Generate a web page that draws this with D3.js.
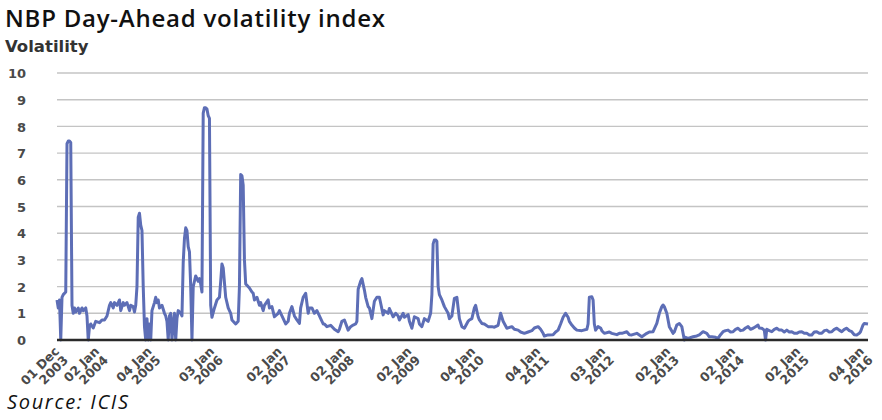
<!DOCTYPE html>
<html>
<head>
<meta charset="utf-8">
<script src="https://cdn.jsdelivr.net/npm/d3@7"></script>
<style>
  body { margin: 0; background: #fff; }
  svg { display: block; }
</style>
</head>
<body>
<div id="chart"></div>
<script>
// chart texts
var chartTitle = "NBP Day-Ahead volatility index";
var yTitle = "Volatility";
var sourceText = "Source: ICIS";

// y axis ticks
var yTicks = [0, 1, 2, 3, 4, 5, 6, 7, 8, 9, 10];

// x axis: observation index (weeks) where the date labels sit
var tickIdx = [0, 32, 74, 124, 178, 229, 282, 333, 385, 437, 489, 541, 593, 644];
var tickDay = ["01 Dec", "02 Jan", "04 Jan", "03 Jan", "02 Jan", "02 Jan", "02 Jan", "04 Jan", "04 Jan", "03 Jan", "02 Jan", "02 Jan", "02 Jan", "04 Jan"];
var tickYear = ["2003", "2004", "2005", "2006", "2007", "2008", "2009", "2010", "2011", "2012", "2013", "2014", "2015", "2016"];
var lastIdx = 649;

// volatility series, [week index, value]
var volPoints = [
  [0,1.5],[1,1.2],[2,1.5],[3,0],[4,1.6],[5,1.7],[7,1.8],[8,7.35],[9,7.45],[10,7.45],[11,7.4],[12,1.3],[13,1.0],[14,1.2],[15,1.05],
  [17,1.2],[18,1.0],[20,1.2],[21,1.1],[23,1.2],[24,0.9],[25,0],[26,0.5],[27,0.6],[29,0.45],[31,0.7],[34,0.65],[36,0.75],[38,0.75],
  [40,0.9],[42,1.3],[43,1.4],[45,1.2],[46,1.4],[48,1.3],[50,1.5],[51,1.1],[53,1.4],[54,1.3],[56,1.4],[58,1.1],[59,1.3],[61,1.25],
  [62,1.05],[63,1.3],[64,2.0],[65,4.6],[66,4.75],[67,4.3],[68,4.1],[69,2.0],[70,0.5],[71,0],[72,0.8],[73,0],[74,0.6],[75,0],
  [76,1.1],[78,1.4],[79,1.6],[80,1.4],[81,1.5],[82,1.2],[84,1.3],[86,1.0],[87,0.9],[88,0.7],[89,0],[90,0.9],[91,1.0],[92,0],
  [93,0.6],[94,1.0],[95,0],[96,0.8],[97,1.1],[99,1.0],[100,0.9],[101,2.9],[102,3.8],[103,4.2],[104,4.1],[105,3.5],[106,3.3],
  [107,2.0],[108,0],[109,2.0],[110,2.2],[111,2.4],[112,2.3],[113,2.2],[114,2.3],[115,2.1],[116,1.8],[117,8.5],[118,8.7],[119,8.7],
  [120,8.65],[121,8.4],[122,8.3],[123,1.3],[124,0.85],[126,1.2],[128,1.5],[130,1.6],[131,2.2],[132,2.85],[133,2.7],[135,1.6],
  [137,1.2],[139,1.0],[140,0.75],[143,0.6],[145,0.7],[146,2.0],[147,6.2],[148,6.15],[149,5.8],[150,3.0],[151,2.1],[152,2.05],
  [154,1.95],[156,1.8],[157,1.75],[158,1.5],[160,1.6],[162,1.3],[163,1.4],[165,1.1],[166,1.3],[169,1.5],[170,1.2],[172,1.25],
  [174,0.87],[177,1.0],[178,1.1],[180,0.9],[183,0.6],[185,0.7],[186,1.0],[188,1.25],[190,0.9],[192,0.75],[194,0.62],[195,1.2],
  [197,1.6],[199,1.75],[201,1.0],[202,1.2],[204,1.2],[206,1.0],[208,1.1],[210,0.9],[213,0.6],[214,0.6],[216,0.5],[219,0.55],
  [222,0.4],[225,0.31],[226,0.4],[228,0.7],[230,0.75],[233,0.37],[235,0.5],[237,0.56],[239,0.6],[240,0.7],[241,1.9],[243,2.2],
  [244,2.3],[246,1.87],[247,1.6],[249,1.25],[250,1.2],[252,0.8],[254,1.45],[256,1.6],[258,1.6],[261,0.94],[262,1.1],[265,1.0],
  [266,1.18],[269,0.87],[271,1.0],[273,0.9],[274,0.75],[277,1.0],[278,0.85],[281,0.95],[282,0.7],[284,0.44],[286,0.87],[289,0.8],
  [290,0.6],[292,0.5],[294,0.8],[297,0.7],[299,1.0],[300,1.7],[301,3.6],[302,3.75],[303,3.75],[304,3.7],[305,2.0],[306,1.7],
  [308,1.5],[310,1.25],[313,1.0],[314,0.8],[316,0.9],[318,1.56],[320,1.6],[321,1.2],[322,0.8],[324,0.5],[326,0.44],[329,0.7],
  [330,0.75],[332,0.8],[334,1.2],[335,1.3],[337,0.87],[338,0.75],[340,0.62],[342,0.6],[345,0.5],[348,0.5],[350,0.48],[353,0.55],
  [355,1.0],[357,0.7],[360,0.44],[364,0.5],[366,0.4],[369,0.37],[371,0.3],[374,0.25],[377,0.3],[380,0.35],[382,0.45],[385,0.5],
  [387,0.4],[389,0.25],[390,0.15],[393,0.19],[397,0.2],[399,0.3],[401,0.37],[403,0.6],[405,0.85],[407,1.0],[409,0.85],[410,0.7],
  [412,0.56],[414,0.45],[416,0.37],[420,0.35],[424,0.4],[425,0.6],[426,1.6],[428,1.62],[429,1.5],[430,0.6],[431,0.37],[433,0.5],
  [435,0.45],[436,0.35],[438,0.25],[442,0.3],[444,0.25],[448,0.2],[450,0.25],[452,0.25],[456,0.31],[458,0.2],[460,0.19],[464,0.25],
  [468,0.12],[472,0.25],[474,0.3],[477,0.31],[480,0.62],[482,1.0],[484,1.25],[485,1.31],[486,1.25],[488,1.0],[490,0.5],[493,0.25],
  [494,0.3],[496,0.56],[498,0.62],[500,0.5],[501,0.25],[502,0],[503,0.1],[505,0.06],[509,0.12],[512,0.15],[514,0.19],[517,0.31],
  [520,0.25],[522,0.12],[524,0.12],[527,0.1],[529,0.06],[531,0.2],[533,0.31],[535,0.35],[537,0.37],[539,0.3],[541,0.31],[543,0.4],
  [545,0.44],[547,0.35],[549,0.37],[551,0.45],[553,0.5],[555,0.4],[557,0.44],[559,0.5],[561,0.56],[562,0.45],[564,0.44],[566,0.37],
  [567,0],[568,0.4],[570,0.35],[572,0.31],[574,0.4],[576,0.44],[578,0.37],[580,0.37],[582,0.3],[584,0.37],[586,0.3],[588,0.31],
  [590,0.25],[592,0.25],[594,0.3],[596,0.31],[598,0.25],[600,0.25],[602,0.19],[604,0.19],[606,0.3],[608,0.31],[610,0.25],[612,0.25],
  [614,0.35],[616,0.37],[618,0.3],[620,0.31],[622,0.4],[624,0.44],[626,0.37],[628,0.31],[630,0.4],[632,0.44],[634,0.35],[636,0.31],
  [638,0.2],[640,0.19],[642,0.25],[643,0.31],[645,0.56],[646,0.62],[649,0.6]
];

// size and plot area
var W = 882, H = 420;
var plot = {left: 57, right: 868, top: 73, bottom: 340};

var svg = d3.select("#chart")
  .append("svg")
  .attr("width", W)
  .attr("height", H);

var xScale = d3.scaleLinear()
  .domain([0, lastIdx])
  .range([plot.left, plot.right]);

var yScale = d3.scaleLinear()
  .domain([0, 10])
  .range([plot.bottom, plot.top]);

var labelFont = "'DejaVu Sans', sans-serif";

// gridlines
svg.append("g")
  .selectAll("line")
  .data(yTicks.filter(function(d) { return d > 0; }))
  .enter()
  .append("line")
  .attr("x1", plot.left)
  .attr("x2", plot.right)
  .attr("y1", function(d) { return yScale(d); })
  .attr("y2", function(d) { return yScale(d); })
  .attr("stroke", "#c4c4c4")
  .attr("stroke-width", 1.4);

// y axis labels
var yAxis = d3.axisLeft(yScale).tickValues(yTicks).tickSize(0).tickPadding(0);
var gy = svg.append("g")
  .attr("transform", "translate(" + 26 + ",0)")
  .call(yAxis);
gy.select(".domain").remove();
gy.selectAll("text")
  .attr("font-family", labelFont)
  .attr("font-weight", "bold")
  .attr("font-size", "13px")
  .attr("fill", "#4a4a4a")
  .attr("dy", "0.36em");

// the line
var line = d3.line()
  .x(function(d) { return xScale(d[0]); })
  .y(function(d) { return yScale(d[1]); });

svg.append("path")
  .datum(volPoints)
  .attr("d", line)
  .attr("fill", "none")
  .attr("stroke", "#5d6eb6")
  .attr("stroke-width", 3)
  .attr("stroke-linejoin", "round");

// x axis baseline
svg.append("line")
  .attr("x1", plot.left)
  .attr("x2", plot.right)
  .attr("y1", yScale(0))
  .attr("y2", yScale(0))
  .attr("stroke", "#2a2a2a")
  .attr("stroke-width", 2.6);

// x tick labels, two lines, rotated
var xl = svg.append("g")
  .selectAll("text")
  .data(tickIdx)
  .enter()
  .append("text")
  .attr("transform", function(d) {
    return "translate(" + (xScale(d) + 3) + "," + (yScale(0) + 12) + ") rotate(-45)";
  })
  .attr("text-anchor", "end")
  .attr("font-family", labelFont)
  .attr("font-weight", "bold")
  .attr("font-size", "12.5px")
  .attr("fill", "#4a4a4a");

xl.append("tspan")
  .attr("x", 0)
  .attr("y", 0)
  .text(function(d, i) { return tickDay[i]; });
xl.append("tspan")
  .attr("x", 0)
  .attr("y", 12.5)
  .text(function(d, i) { return tickYear[i]; });

// titles
svg.append("text")
  .attr("x", 5)
  .attr("y", 27)
  .attr("font-family", "'Open Sans', sans-serif")
  .attr("font-weight", 600)
  .attr("font-size", "24px")
  .attr("fill", "#111")
  .attr("textLength", 380)
  .attr("lengthAdjust", "spacing")
  .text(chartTitle);

svg.append("text")
  .attr("x", 5)
  .attr("y", 52)
  .attr("font-family", labelFont)
  .attr("font-weight", "bold")
  .attr("font-size", "16.5px")
  .attr("fill", "#333")
  .text(yTitle);

svg.append("text")
  .attr("x", 7)
  .attr("y", 409)
  .attr("font-family", "'Open Sans', sans-serif")
  .attr("font-style", "italic")
  .attr("font-size", "20px")
  .attr("fill", "#111")
  .attr("textLength", 121)
  .attr("lengthAdjust", "spacing")
  .text(sourceText);
</script>
</body>
</html>
